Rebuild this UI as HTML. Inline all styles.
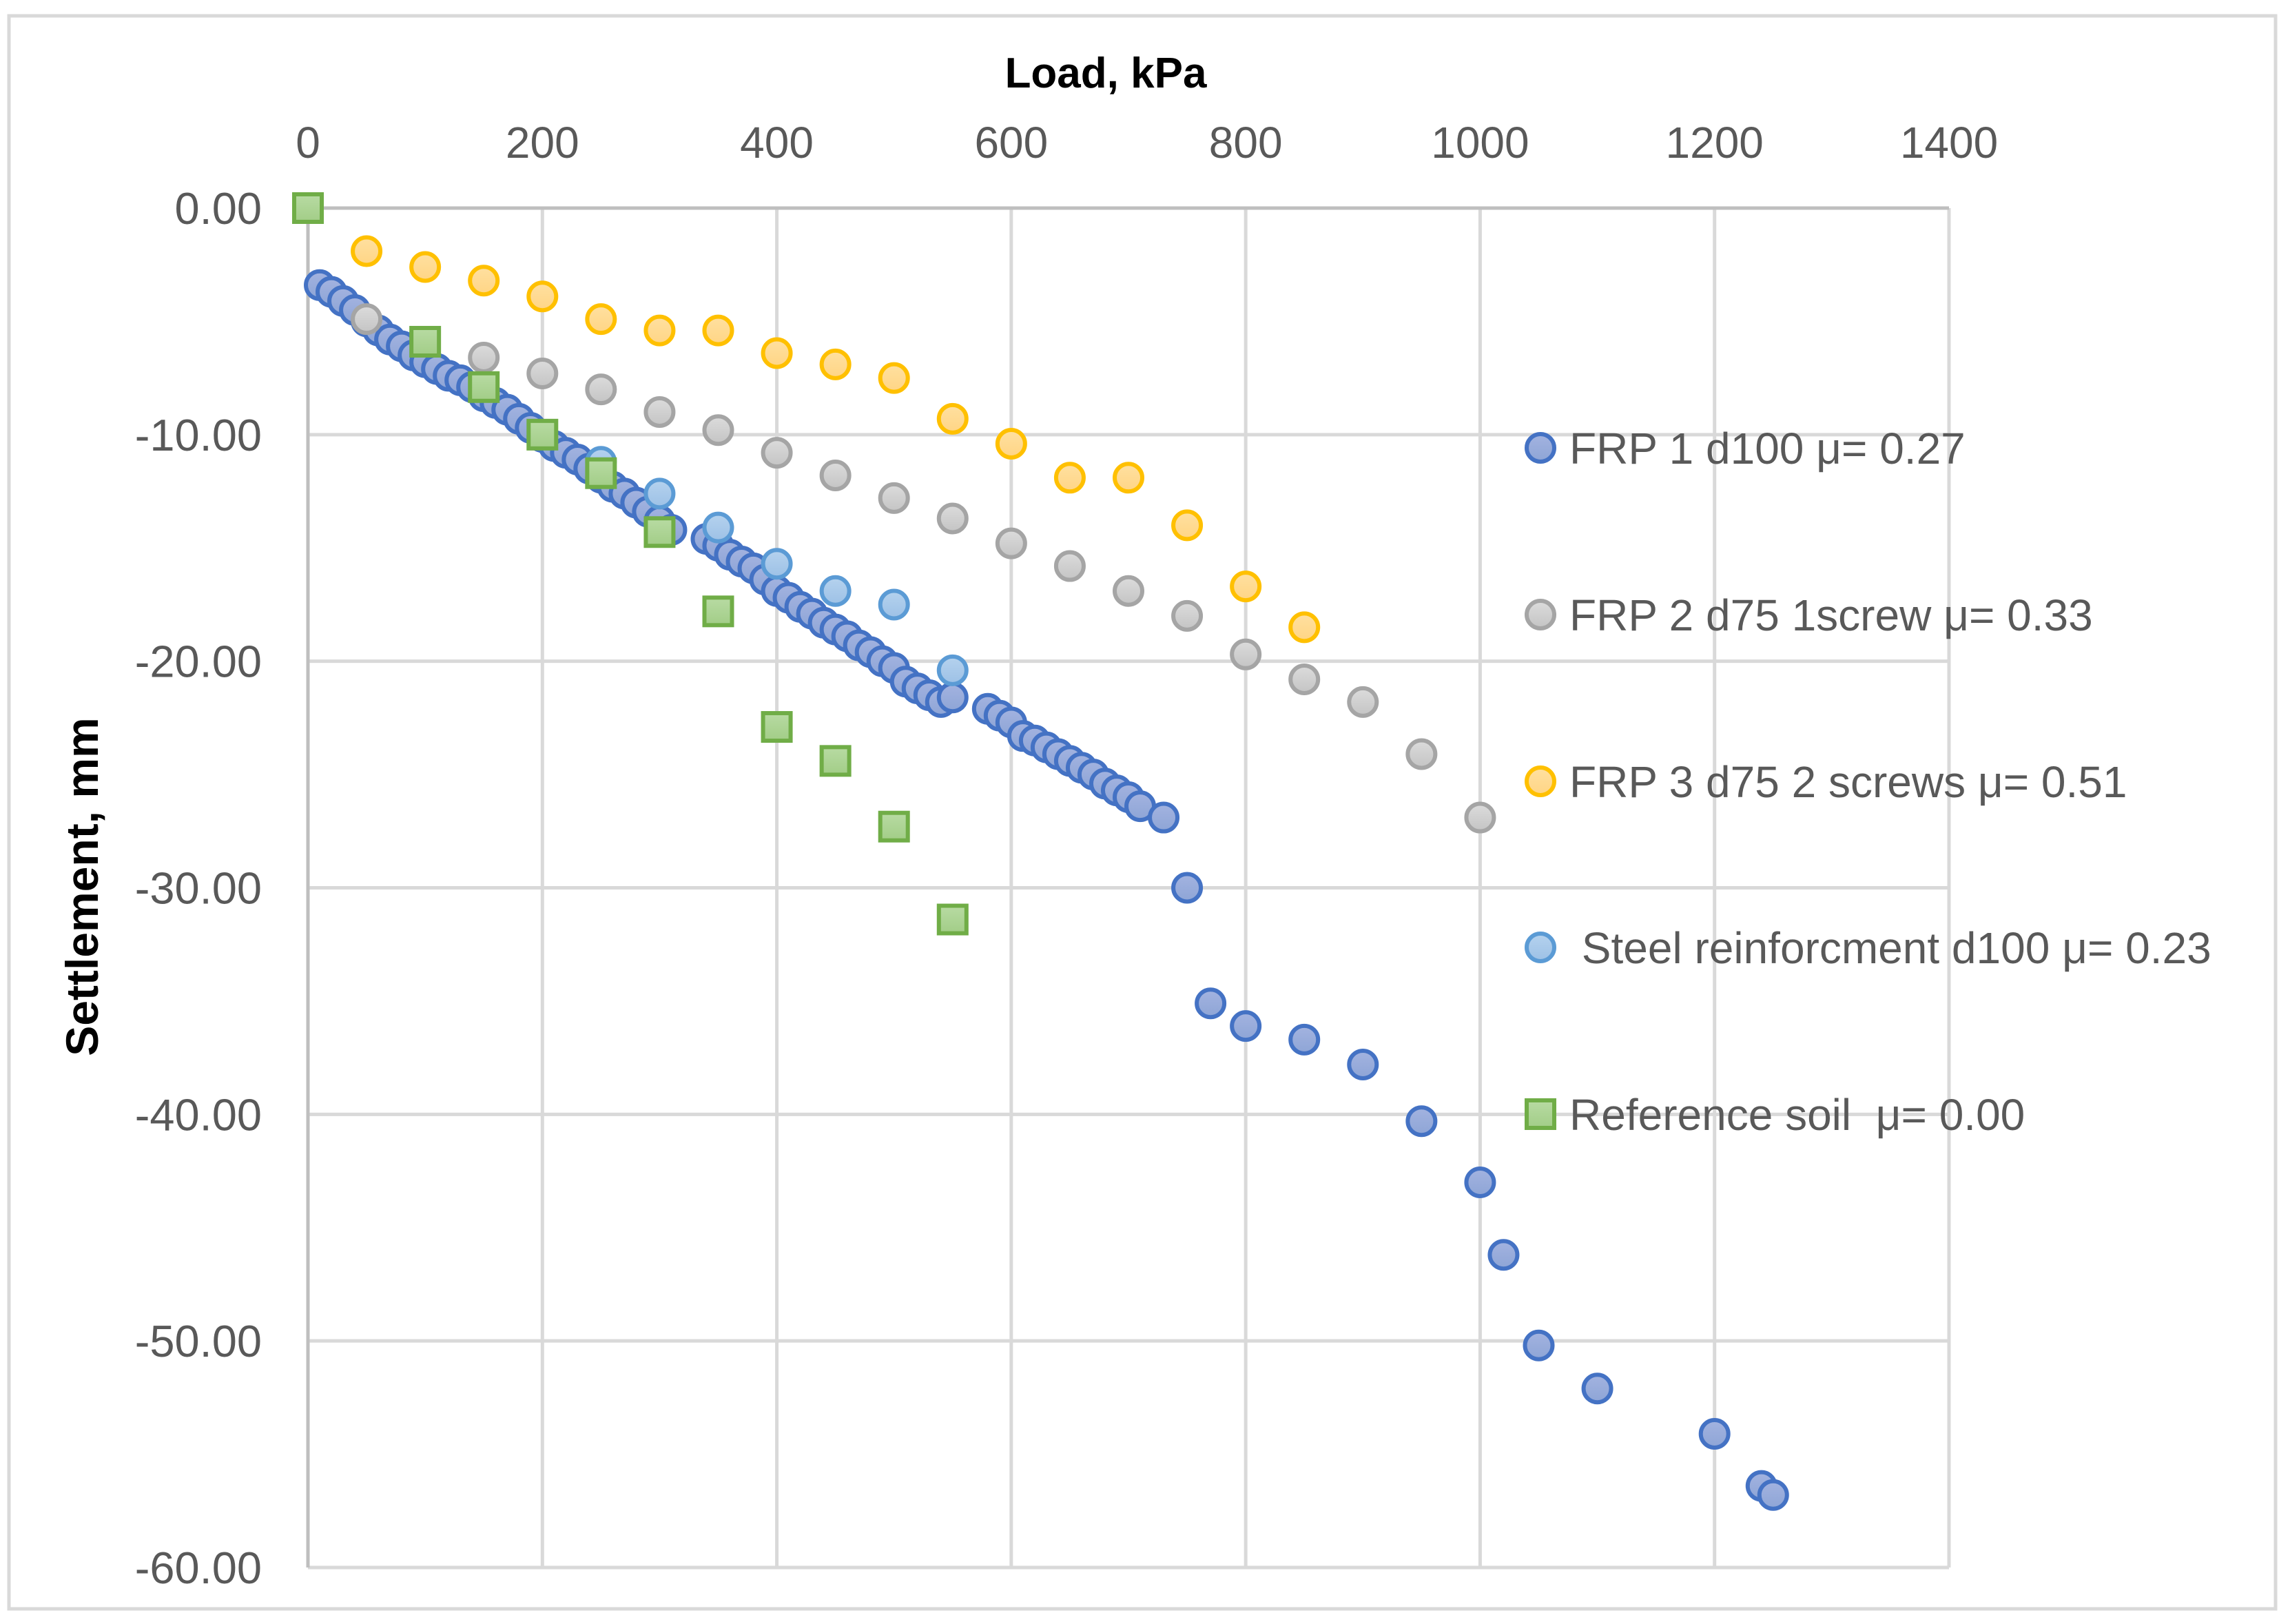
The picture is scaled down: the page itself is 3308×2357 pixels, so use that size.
<!DOCTYPE html>
<html><head><meta charset="utf-8"><style>
html,body{margin:0;padding:0;background:#fff;}
svg{display:block;font-family:"Liberation Sans",sans-serif;}
</style></head><body>
<svg id="chart" width="3308" height="2357" viewBox="0 0 3308 2357" xmlns="http://www.w3.org/2000/svg">
<defs>
<linearGradient id="gBlue" x1="0" y1="0" x2="0" y2="1"><stop offset="0" stop-color="#a3b3e0"/><stop offset="1" stop-color="#8ea5d6"/></linearGradient>
<linearGradient id="gGray" x1="0" y1="0" x2="0" y2="1"><stop offset="0" stop-color="#dcdcdc"/><stop offset="1" stop-color="#c4c4c4"/></linearGradient>
<linearGradient id="gOrange" x1="0" y1="0" x2="0" y2="1"><stop offset="0" stop-color="#ffe0a0"/><stop offset="1" stop-color="#ffd585"/></linearGradient>
<linearGradient id="gSteel" x1="0" y1="0" x2="0" y2="1"><stop offset="0" stop-color="#b5d2ee"/><stop offset="1" stop-color="#9dc1e6"/></linearGradient>
<linearGradient id="gGreen" x1="0" y1="0" x2="0" y2="1"><stop offset="0" stop-color="#b8dba3"/><stop offset="1" stop-color="#a2cd87"/></linearGradient>
</defs>
<rect x="13" y="23" width="3290" height="2312" fill="#fff" stroke="#d9d9d9" stroke-width="5"/>
<g id="grid"></g>
<g id="axes"></g>
<g id="marks"></g>
<g id="legend"></g>
<text x="1605" y="127" text-anchor="middle" font-size="62" font-weight="bold" fill="#000">Load, kPa</text>
<text transform="translate(142,1287) rotate(-90)" text-anchor="middle" font-size="66" font-weight="bold" fill="#000">Settlement, mm</text>
</svg>
<script>
const xTicks=[0,200,400,600,800,1000,1200,1400];
const yTicks=[0,-10,-20,-30,-40,-50,-60];
const yTickLabels=["0.00","-10.00","-20.00","-30.00","-40.00","-50.00","-60.00"];
const frp1Load=[10,20,30,40,50,60,70,80,90,100,110,120,130,140,150,160,170,180,190,200,210,220,230,240,250,260,270,280,290,300,310,340,350,360,370,380,390,400,410,420,430,440,450,460,470,480,490,500,510,520,530,540,550,580,590,600,610,620,630,640,650,660,670,680,690,700,710,730,750,770,800,850,900,950,1000,1020,1050,1100,1200,1240,1250];
const frp1Settle=[-3.4,-3.7,-4.1,-4.5,-5.0,-5.4,-5.8,-6.1,-6.5,-6.8,-7.1,-7.4,-7.6,-7.9,-8.3,-8.6,-8.9,-9.3,-9.7,-10.1,-10.5,-10.8,-11.1,-11.5,-11.9,-12.3,-12.6,-13.0,-13.4,-13.8,-14.2,-14.6,-14.9,-15.3,-15.6,-15.9,-16.4,-16.9,-17.2,-17.6,-17.9,-18.3,-18.6,-18.9,-19.3,-19.6,-20.0,-20.3,-20.9,-21.2,-21.5,-21.8,-21.6,-22.1,-22.4,-22.7,-23.3,-23.5,-23.8,-24.1,-24.4,-24.7,-25.0,-25.4,-25.7,-26.0,-26.4,-26.9,-30.0,-35.1,-36.1,-36.7,-37.8,-40.3,-43.0,-46.2,-50.2,-52.1,-54.1,-56.4,-56.8];
const frp2Load=[50,150,200,250,300,350,400,450,500,550,600,650,700,750,800,850,900,950,1000];
const frp2Settle=[-4.9,-6.6,-7.3,-8.0,-9.0,-9.8,-10.8,-11.8,-12.8,-13.7,-14.8,-15.8,-16.9,-18.0,-19.7,-20.8,-21.8,-24.1,-26.9];
const frp3Load=[50,100,150,200,250,300,350,400,450,500,550,600,650,700,750,800,850];
const frp3Settle=[-1.9,-2.6,-3.2,-3.9,-4.9,-5.4,-5.4,-6.4,-6.9,-7.5,-9.3,-10.4,-11.9,-11.9,-14.0,-16.7,-18.5];
const steelLoad=[250,300,350,400,450,500,550];
const steelSettle=[-11.2,-12.6,-14.1,-15.7,-16.9,-17.5,-20.4];
const refLoad=[0,100,150,200,250,300,350,400,450,500,550];
const refSettle=[0,-5.9,-7.9,-10.0,-11.7,-14.3,-17.8,-22.9,-24.4,-27.3,-31.4];
const legendLabels=["FRP 1 d100 μ= 0.27","FRP 2 d75 1screw μ= 0.33","FRP 3 d75 2 screws μ= 0.51"," Steel reinforcment d100 μ= 0.23","Reference soil  μ= 0.00"];

const NS="http://www.w3.org/2000/svg";
const X0=447,X1=2829,Y0=302,Y1=2275;
function xs(v){return X0+(v/1400)*(X1-X0);}
function ys(v){return Y0+(v/-60)*(Y1-Y0);}
function mk(tag,attrs,parent){const e=document.createElementNS(NS,tag);for(const k in attrs)e.setAttribute(k,attrs[k]);parent.appendChild(e);return e;}
const grid=document.getElementById('grid'),axes=document.getElementById('axes'),marks=document.getElementById('marks'),legend=document.getElementById('legend');
xTicks.forEach(t=>{
  if(t>0){const l=mk('line',{x1:xs(t),x2:xs(t),y1:Y0,y2:Y1,stroke:'#d9d9d9','stroke-width':5},grid);
  
  }
  const tx=mk('text',{x:xs(t),y:229,'text-anchor':'middle','font-size':64,fill:'#595959'},axes);
  tx.textContent=t;
  
  
});
yTicks.forEach((t,i)=>{
  if(t<0){const l=mk('line',{x1:X0,x2:X1,y1:ys(t),y2:ys(t),stroke:'#d9d9d9','stroke-width':5},grid);
  
  }
  const tx=mk('text',{x:380,y:ys(t)+23,'text-anchor':'end','font-size':65,fill:'#595959'},axes);
  tx.textContent=yTickLabels[i];
  
  
});
const xa=mk('line',{x1:X0,x2:X1,y1:ys(0),y2:ys(0),stroke:'#bfbfbf','stroke-width':5},axes);


const ya=mk('line',{x1:X0,x2:X0,y1:Y0,y2:Y1,stroke:'#bfbfbf','stroke-width':5},axes);



const series=[
 {name:'frp1',lx:frp1Load,ly:frp1Settle,fill:'url(#gBlue)',stroke:'#4472c4',shape:'c'},
 {name:'frp2',lx:frp2Load,ly:frp2Settle,fill:'url(#gGray)',stroke:'#a5a5a5',shape:'c'},
 {name:'frp3',lx:frp3Load,ly:frp3Settle,fill:'url(#gOrange)',stroke:'#ffc000',shape:'c'},
 {name:'steel',lx:steelLoad,ly:steelSettle,fill:'url(#gSteel)',stroke:'#5b9bd5',shape:'c'},
 {name:'reference',lx:refLoad,ly:refSettle,fill:'url(#gGreen)',stroke:'#70ad47',shape:'s'}
];
const legY=[650,892,1134,1375,1617];
series.forEach((s,si)=>{
  const g=mk('g',{},marks);
  
  
  s.lx.forEach((v,i)=>{
    let e;
    if(s.shape==='c') e=mk('circle',{cx:xs(v),cy:ys(s.ly[i]),r:20,fill:s.fill,stroke:s.stroke,'stroke-width':6},g);
    else e=mk('rect',{x:xs(v)-20,y:ys(s.ly[i])-20,width:40,height:40,fill:s.fill,stroke:s.stroke,'stroke-width':6},g);
    
    
  });
  const lg=mk('g',{},legend);
  
  
  if(s.shape==='c') mk('circle',{cx:2236,cy:legY[si],r:20,fill:s.fill,stroke:s.stroke,'stroke-width':6},lg);
  else mk('rect',{x:2216,y:legY[si]-20,width:40,height:40,fill:s.fill,stroke:s.stroke,'stroke-width':6},lg);
  const t=mk('text',{x:2278,y:legY[si]+23,'font-size':64,fill:'#595959'},lg);
  t.textContent=legendLabels[si];
  t.setAttribute('xml:space','preserve');
  t.style.whiteSpace='pre';
});
</script>
</body></html>
